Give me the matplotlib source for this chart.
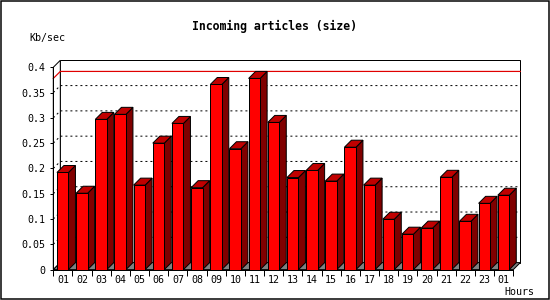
import matplotlib
matplotlib.use("Agg")
import matplotlib.pyplot as plt
from matplotlib.patches import Polygon, Rectangle
import numpy as np

# ---- data ----
hours = ['01', '02', '03', '04', '05', '06', '07', '08', '09', '10', '11', '12',
         '13', '14', '15', '16', '17', '18', '19', '20', '21', '22', '23', '01']
kbps = [0.192, 0.151, 0.297, 0.307, 0.167, 0.250, 0.289, 0.162, 0.366, 0.239,
        0.378, 0.291, 0.182, 0.196, 0.175, 0.242, 0.167, 0.0995, 0.070, 0.082,
        0.1825, 0.0955, 0.131, 0.147]
y_ticks = [0, 0.05, 0.1, 0.15, 0.2, 0.25, 0.3, 0.35, 0.4]
y_tick_labels = ['0', '0.05', '0.1', '0.15', '0.2', '0.25', '0.3', '0.35', '0.4']
title = 'Incoming articles (size)'
y_label = 'Kb/sec'
x_label = 'Hours'

# ---- styling ----
W, H = 550, 300
DEPTH_PX = 7
FRONT = '#ff0000'
SIDE = '#800000'
TOP = '#c00000'
FLOOR = '#808080'
PX = 0.72  # one pixel in points at dpi 100
MONO = 'DejaVu Sans Mono'

fig = plt.figure(figsize=(W / 100, H / 100), dpi=100)
fig.patch.set_facecolor('white')
ax_l, ax_r, ax_t, ax_b = 53.3, 513.3, 67.3, 269.6
ax = fig.add_axes([ax_l / W, (H - ax_b) / H, (ax_r - ax_l) / W, (ax_b - ax_t) / H])
n = len(kbps)
ax.set_xlim(0, n)
ax.set_ylim(0, 0.4)
ax.patch.set_visible(False)

# depth in data units
DX = DEPTH_PX / ((ax_r - ax_l) / n)
DY = DEPTH_PX / ((ax_b - ax_t) / 0.4)
ymax = 0.4

# back plane
ax.add_patch(Rectangle((DX, DY), n, ymax, facecolor='white', edgecolor='black',
                       lw=PX, zorder=0.5, clip_on=False))
# left wall
ax.add_patch(Polygon([(0, 0), (DX, DY), (DX, ymax + DY), (0, ymax)], closed=True,
                     facecolor='white', edgecolor='black', lw=PX, zorder=0.6,
                     clip_on=False))
# grid lines (dotted, on wall + back plane)
for v in y_ticks[1:-1]:
    ax.plot([0, DX, n + DX], [v, v + DY, v + DY], color='black', lw=PX,
            ls=(0, (2, 3)), zorder=0.7, clip_on=False)
# max line
m = max(kbps)
ax.plot([0, DX, n + DX], [m, m + DY, m + DY], color='#e00000', lw=PX * 1.2,
        zorder=0.8, clip_on=False)
# floor
ax.add_patch(Polygon([(0, 0), (n, 0), (n + DX, DY), (DX, DY)], closed=True,
                     facecolor=FLOOR, edgecolor='black', lw=PX, zorder=0.9,
                     clip_on=False))

# bars
bw = 0.6
off = 0.19
for i, v in enumerate(kbps):
    x0 = i + off
    x1 = x0 + bw
    z = 2 + i * 0.01
    ax.add_patch(Polygon([(x1, 0), (x1 + DX, DY), (x1 + DX, v + DY), (x1, v)], closed=True,
                         facecolor=SIDE, edgecolor='black', lw=PX, zorder=z, clip_on=False))
    ax.add_patch(Polygon([(x0, v), (x1, v), (x1 + DX, v + DY), (x0 + DX, v + DY)], closed=True,
                         facecolor=TOP, edgecolor='black', lw=PX, zorder=z, clip_on=False))
    ax.add_patch(Rectangle((x0, 0), bw, v, facecolor=FRONT, edgecolor='black', lw=PX,
                           zorder=z + 0.005, clip_on=False))

# axes / ticks
for s in ['top', 'right']:
    ax.spines[s].set_visible(False)
for s in ['left', 'bottom']:
    ax.spines[s].set_linewidth(PX)
    ax.spines[s].set_zorder(3)
ax.set_yticks(y_ticks)
ax.set_yticklabels(y_tick_labels, fontfamily=MONO, fontsize=7.2)
ax.tick_params(axis='y', length=3.3 * PX, width=PX, pad=4.5 * PX, direction='out')
ax.set_xticks(np.arange(n + 1))
ax.set_xticklabels([])
ax.tick_params(axis='x', which='major', length=6 * PX, width=PX, direction='out')
ax.set_xticks(np.arange(n) + 0.5, minor=True)
ax.set_xticklabels(hours, minor=True, fontfamily=MONO, fontsize=7.2)
ax.tick_params(axis='x', which='minor', length=0, pad=5 * PX)

# texts
fig.text(274 / W, 1 - 26.5 / H, title, ha='center', va='center', fontfamily=MONO,
         fontweight='bold', fontsize=8.3)
fig.text(29 / W, 1 - 37.5 / H, y_label, ha='left', va='center', fontfamily=MONO,
         fontsize=7.2)
fig.text(504 / W, 1 - 292 / H, x_label, ha='left', va='center', fontfamily=MONO,
         fontsize=7.2)

# image border
fig.add_artist(Rectangle((0.5 / W, 1.5 / H), 548 / W, 298 / H, transform=fig.transFigure,
                         fill=False, edgecolor='black', lw=1.5 * PX))

fig.savefig('out.png', dpi=100, facecolor='white')
